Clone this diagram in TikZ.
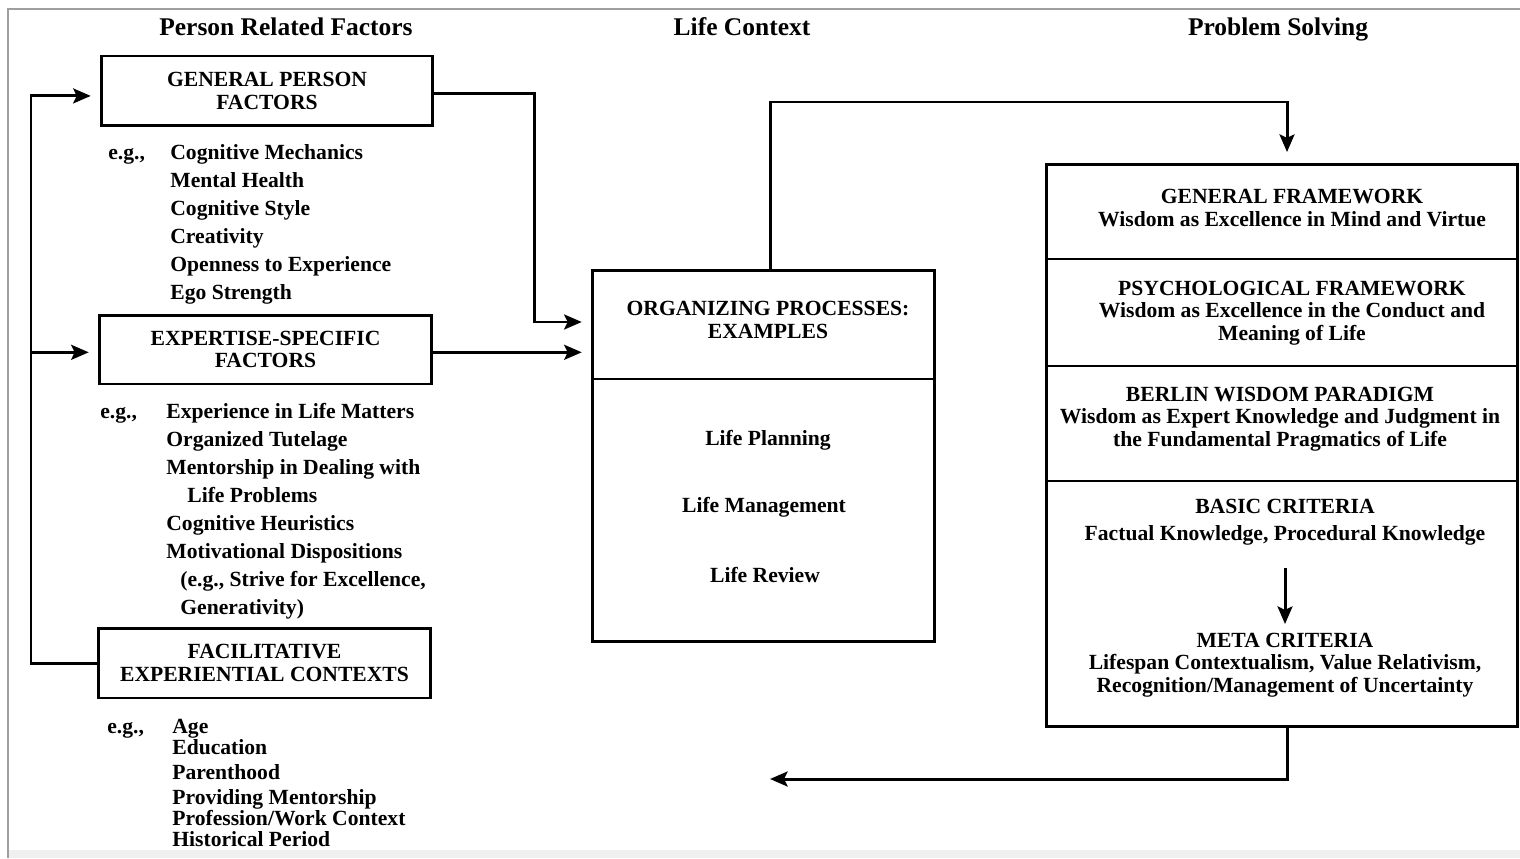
\documentclass[tikz,border=0pt]{standalone}
\usepackage{fontspec}
\setmainfont{Liberation Serif}
\usetikzlibrary{arrows.meta}
\tikzset{
  box/.style={draw, line width=1.7pt, inner sep=0pt},
  lbl/.style={font=\fontsize{12.3}{12.7}\selectfont\bfseries, align=center, inner sep=1pt},
  item/.style={font=\fontsize{12.3}{12.7}\selectfont\bfseries, anchor=west, inner sep=0pt,
    text height=1.6ex, text depth=.5ex, yshift=-1.5pt},
  head/.style={font=\fontsize{14.5}{15}\selectfont\bfseries, anchor=base},
  link/.style={line width=1.7pt, -{Stealth[length=10pt,width=8.5pt,inset=2pt]}},
}
\begin{document}
\begin{tikzpicture}[x=0.02cm,y=-0.02cm]
  \useasboundingbox (0,0) rectangle (1520,858);
  % frame of the figure
  \fill[gray!12] (8,850) rectangle (1520,858);
  \draw[gray!75, line width=0.8pt] (8,858) -- (8,9) -- (1520,9);

  % column heads
  \node[head] (hpers) at (286,36) {Person Related Factors};
  \node[head] (hlife) at (742,36) {Life Context};
  \node[head] (hprob) at (1278,36) {Problem Solving};

  % person related factors
  \node[box, lbl, minimum width=6.64cm, minimum height=1.4cm] (gpf) at (267,91)
    {GENERAL PERSON\\FACTORS};
  \node[box, lbl, minimum width=6.66cm, minimum height=1.38cm] (esf) at (265.5,349.5)
    {EXPERTISE-SPECIFIC\\FACTORS};
  \node[box, lbl, minimum width=6.66cm, minimum height=1.4cm] (fec) at (264.5,663)
    {FACILITATIVE\\EXPERIENTIAL CONTEXTS};

  \node[item] (eg1) at (108,152) {e.g.,};
  \foreach \t [count=\i] in {Cognitive Mechanics, Mental Health, Cognitive Style,
      Creativity, Openness to Experience, Ego Strength}
    \node[item] (gp\i) at (170,124+28*\i) {\t};

  \node[item] (eg2) at (100,411) {e.g.,};
  \foreach \x/\y/\t [count=\i] in {166/411/Experience in Life Matters,
      166/439/Organized Tutelage, 166/467/Mentorship in Dealing with,
      187/495/Life Problems, 166/523/Cognitive Heuristics,
      166/551/Motivational Dispositions, 180/579/{(e.g., Strive for Excellence,},
      180/607/{Generativity)}}
    \node[item] (es\i) at (\x,\y) {\t};

  \node[item] (eg3) at (107,726) {e.g.,};
  \foreach \y/\t [count=\i] in {726/Age, 747/Education, 772/Parenthood,
      797/Providing Mentorship, 818/{Profession/Work Context}, 839/Historical Period}
    \node[item] (fc\i) at (172,\y) {\t};

  % life context
  \node[box, minimum width=6.86cm, minimum height=7.44cm] (org) at (763.5,456) {};
  \draw[line width=1.7pt] (592,379) -- (935,379);
  \node[lbl] (orgt) at (768,320) {ORGANIZING PROCESSES:\\EXAMPLES};
  \node[lbl] (plan) at (768,440) {Life Planning};
  \node[lbl] (mgmt) at (764,507) {Life Management};
  \node[lbl] (rev) at (765,575) {Life Review};

  % problem solving
  \node[box, minimum width=9.44cm, minimum height=11.26cm] (pb) at (1282,445.5) {};
  \foreach \y in {259,366,481}
    \draw[line width=1.7pt] (1046,\y) -- (1518,\y);
  \node[lbl] (gft) at (1292,208) {GENERAL FRAMEWORK\\Wisdom as Excellence in Mind and Virtue};
  \node[lbl] (psyt) at (1292,313) {PSYCHOLOGICAL FRAMEWORK\\Wisdom as Excellence in the Conduct and\\Meaning of Life};
  \node[lbl] (bwpt) at (1280,419) {BERLIN WISDOM PARADIGM\\Wisdom as Expert Knowledge and Judgment in\\the Fundamental Pragmatics of Life};
  \node[lbl] (basic) at (1285,522) {BASIC CRITERIA\\[2.5pt]Factual Knowledge, Procedural Knowledge};
  \node[lbl] (meta) at (1285,665) {META CRITERIA\\Lifespan Contextualism, Value Relativism,\\Recognition/Management of Uncertainty};

  % connectors
  \coordinate (rail) at (31,0);
  \coordinate (gin) at ([yshift=-2.8pt]gpf.west);
  \coordinate (gout) at ([yshift=-1.7pt]gpf.east);
  \coordinate (ein) at ([yshift=-1.6pt]esf.west);
  \coordinate (eout) at ([yshift=-1.6pt]esf.east);
  \coordinate (j1) at (534,322);
  \coordinate (tr) at (1287,102);
  \coordinate (back) at (770,779);
  \draw[link, shorten >=5pt] (fec.west) -| (rail |- gin) -- (gin);
  \draw[link, shorten >=5pt] (rail |- ein) -- (ein);
  \draw[link, shorten >=5pt] (gout) -| (j1) -- (j1 -| org.west);
  \draw[link, shorten >=5pt] (eout) -- (eout -| org.west);
  \draw[link, shorten >=6pt] ([xshift=3.7pt]org.north) |- (tr) -- (tr |- pb.north);
  \draw[link, shorten <=12pt, shorten >=4pt] (basic) -- (meta);
  \draw[link] (tr |- pb.south) |- (back);
\end{tikzpicture}
\end{document}
